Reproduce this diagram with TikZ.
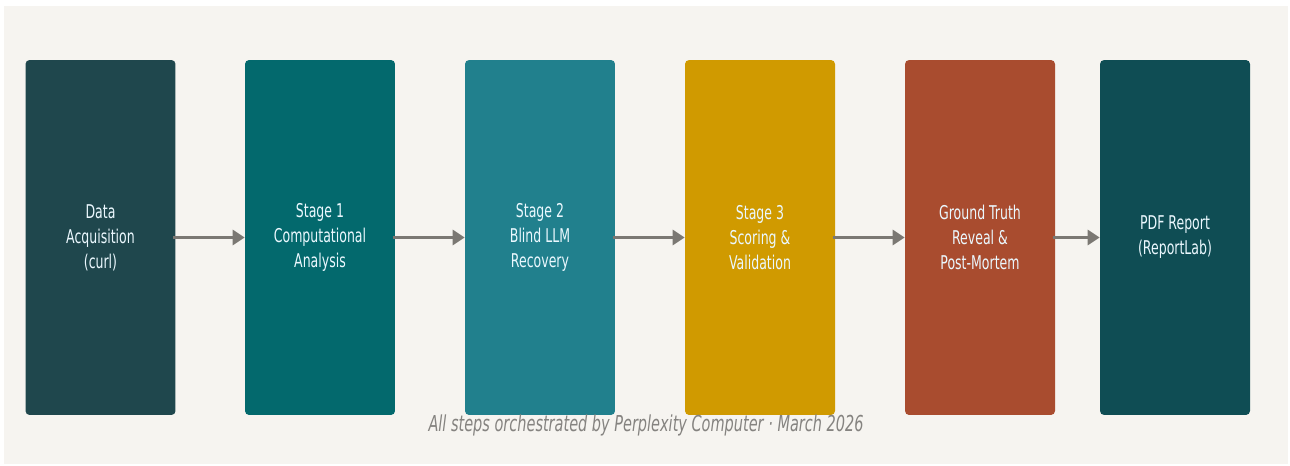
\documentclass[tikz,border=0pt]{standalone}
\usepackage{fontspec}
\setmainfont{DejaVu Sans}[FakeStretch=0.66]
\usetikzlibrary{arrows.meta}

\definecolor{pagebg}{HTML}{F6F4F0}
\definecolor{acqcol}{HTML}{1F474D}
\definecolor{onecol}{HTML}{03696D}
\definecolor{twocol}{HTML}{21808D}
\definecolor{threecol}{HTML}{D09A00}
\definecolor{truthcol}{HTML}{A94C2F}
\definecolor{pdfcol}{HTML}{0F4D54}
\definecolor{flowgray}{HTML}{7B7873}
\definecolor{notegray}{HTML}{858380}

\tikzset{
  stagebox/.style={rounded corners=0.08cm, minimum width=3cm, minimum height=7.1cm,
    text=white!92!cyan, align=center, font=\fontsize{10.8}{14.2}\selectfont, inner sep=0pt},
  flow/.style={draw=flowgray, line width=1.8pt, -{Triangle[length=0.24cm,width=0.3cm]}}
}

\begin{document}
\begin{tikzpicture}[x=0.02cm,y=-0.02cm]

\useasboundingbox (0,0) rectangle (1290,466);
\fill[white] (0,0) rectangle (1290,466);
\fill[pagebg] (4,6) rectangle (1288,464);

\node[stagebox, fill=acqcol]   (acq)   at (100.5,237.5) {Data\\Acquisition\\(curl)};
\node[stagebox, fill=onecol]   (one)   at (320,237.5)   {Stage 1\\Computational\\Analysis};
\node[stagebox, fill=twocol]   (two)   at (540,237.5)   {Stage 2\\Blind LLM\\Recovery};
\node[stagebox, fill=threecol] (three) at (760,237.5)   {Stage 3\\Scoring \&\\Validation};
\node[stagebox, fill=truthcol] (truth) at (980,237.5)   {Ground Truth\\Reveal \&\\Post-Mortem};
\node[stagebox, fill=pdfcol]   (pdf)   at (1175,237.5)  {PDF Report\\(ReportLab)};

\foreach \from/\to in {acq/one,one/two,two/three,three/truth,truth/pdf}
  \draw[flow] ([xshift=-1.5pt]\from.east) -- (\to.west);

\node[text=notegray, font=\fontsize{12.5}{15}\selectfont\itshape] (note) at (646,425)
  {All steps orchestrated by Perplexity Computer · March 2026};

\end{tikzpicture}
\end{document}
